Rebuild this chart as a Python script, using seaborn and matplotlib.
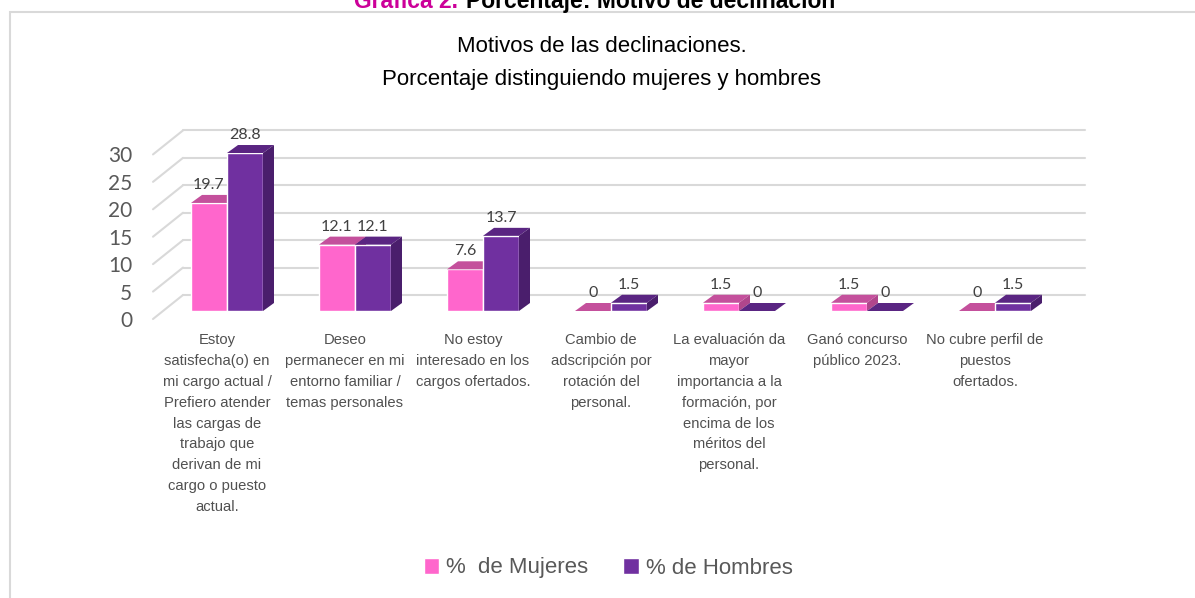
import matplotlib
matplotlib.use('Agg')
import matplotlib.pyplot as plt
import matplotlib.transforms as mtransforms
from matplotlib.patches import Polygon, Rectangle
import pandas as pd
import seaborn as sns

# Data
categories = [
    "Estoy\nsatisfecha(o) en\nmi cargo actual /\nPrefiero atender\nlas cargas de\ntrabajo que\nderivan de mi\ncargo o puesto\nactual.",
    "Deseo\npermanecer en mi\nentorno familiar /\ntemas personales",
    "No estoy\ninteresado en los\ncargos ofertados.",
    "Cambio de\nadscripción por\nrotación del\npersonal.",
    "La evaluación da\nmayor\nimportancia a la\nformación, por\nencima de los\nméritos del\npersonal.",
    "Ganó concurso\npúblico 2023.",
    "No cubre perfil de\npuestos\nofertados.",
]
mujeres = [19.7, 12.1, 7.6, 0, 1.5, 1.5, 0]
hombres = [28.8, 12.1, 13.7, 1.5, 0, 0, 1.5]
series = ["%  de Mujeres", "% de Hombres"]
y_ticks = [0, 5, 10, 15, 20, 25, 30]

front_cols = ["#FF66CC", "#7030A0"]
top_cols = ["#C4509C", "#5A2582"]
side_cols = ["#B0468C", "#4A1E6C"]

df = pd.DataFrame({
    "cat": categories * 2,
    "val": mujeres + hombres,
    "serie": [series[0]] * len(categories) + [series[1]] * len(categories),
})

sans = ["Liberation Sans", "DejaVu Sans"]
num_font = ["Lato", "DejaVu Sans"]

sns.set_style("white")
plt.rcParams['font.family'] = sans

W, H = 1195, 598
fig = plt.figure(figsize=(W / 100, H / 100), dpi=100)

# axes placed in pixels: left 153, right 1085, y=0 at 311, y=35 at 119
ax = fig.add_axes([153 / W, (H - 311) / H, 932 / W, 192 / H])
sns.barplot(data=df, x="cat", y="val", hue="serie", palette=front_cols,
            width=0.5625, ax=ax, saturation=1, legend=True, zorder=3)

xl = (-0.5 - 10 / 128, (1085 - 227) / 128)
ax.set_xlim(*xl)
ax.set_ylim(0, 35)
ppu_y = 192 / 35.0
ddx = 11 / 128.0
ddy = 8 / ppu_y

# back wall gridlines and floor diagonals
back_off = 16 / ppu_y
front_off = 8 / ppu_y
x_back = -0.5 + (183 - 163) / 128
for v in y_ticks:
    ax.plot([x_back, xl[1]], [v + back_off, v + back_off], color="#D9D9D9",
            lw=1.5, zorder=1, clip_on=False)
    ax.plot([xl[0], x_back], [v - front_off, v + back_off], color="#D9D9D9",
            lw=1.5, zorder=1, clip_on=False)

# 3D faces on each bar
for k, cont in enumerate(ax.containers):
    for bar in cont:
        x0, w, h = bar.get_x(), bar.get_width(), bar.get_height()
        bar.set_zorder(3 + k)
        top = Polygon([(x0, h), (x0 + w, h), (x0 + w + ddx, h + ddy), (x0 + ddx, h + ddy)],
                      closed=True, fc=top_cols[k], ec="none", zorder=3 + k, clip_on=False)
        side = Polygon([(x0 + w, 0), (x0 + w + ddx, ddy), (x0 + w + ddx, h + ddy), (x0 + w, h)],
                       closed=True, fc=side_cols[k], ec="none", zorder=3 + k, clip_on=False)
        ax.add_patch(top)
        ax.add_patch(side)
        ax.annotate(f"{h:g}", (x0 + w / 2, h), xytext=(0, 13), textcoords="offset points",
                    ha="center", va="center", fontsize=11.5, color="#404040",
                    family=num_font, zorder=10)

ax.set_yticks(y_ticks)
ax.set_yticklabels([str(v) for v in y_ticks], fontsize=15, color="#595959", family=num_font)
ax.tick_params(axis="y", length=0, pad=15)
ax.tick_params(axis="x", length=0, pad=16)
ax.set_xticks(range(len(categories)))
ax.set_xticklabels(categories, fontsize=10.6, color="#505050", family=sans,
                   linespacing=1.62, va="top")
sh_y = mtransforms.ScaledTranslation(0, -8 / 100, fig.dpi_scale_trans)
for lab in ax.get_yticklabels():
    lab.set_transform(lab.get_transform() + sh_y)
sh_x = mtransforms.ScaledTranslation(-10 / 100, 0, fig.dpi_scale_trans)
for lab in ax.get_xticklabels():
    lab.set_transform(lab.get_transform() + sh_x)

ax.set_xlabel("")
ax.set_ylabel("")
sns.despine(ax=ax, left=True, bottom=True)

handles, labels = ax.get_legend_handles_labels()
ax.get_legend().remove()
fig.legend(handles, labels, loc="center", bbox_to_anchor=(608 / W, 1 - 568 / H),
           ncol=2, frameon=False, fontsize=16, handlelength=0.7, handleheight=0.7,
           handletextpad=0.3, columnspacing=1.6, labelcolor="#595959")

# chart title
fig.text(602 / W, 1 - 47 / H, "Motivos de las declinaciones.", ha="center", va="center",
         fontsize=16, color="black", family=sans)
fig.text(602 / W, 1 - 79 / H, "Porcentaje distinguiendo mujeres y hombres", ha="center",
         va="center", fontsize=16, color="black", family=sans)

# page header (cut at top, as in the source page) and chart frame
fig.text(458 / W, 1 - 8 / H, "Gráfica 2.", ha="right", va="baseline", fontsize=16.5,
         fontweight="bold", color="#CC0099", family=sans)
fig.text(466 / W, 1 - 8 / H, "Porcentaje: Motivo de declinación", ha="left", va="baseline",
         fontsize=16.5, fontweight="bold", color="black", family=sans)
fig.patches.append(Rectangle((10 / W, -0.05), 1.1, (H - 12) / H + 0.05,
                             transform=fig.transFigure, fill=False, ec="#D9D9D9", lw=1.5))

fig.savefig("out.png", dpi=100)
